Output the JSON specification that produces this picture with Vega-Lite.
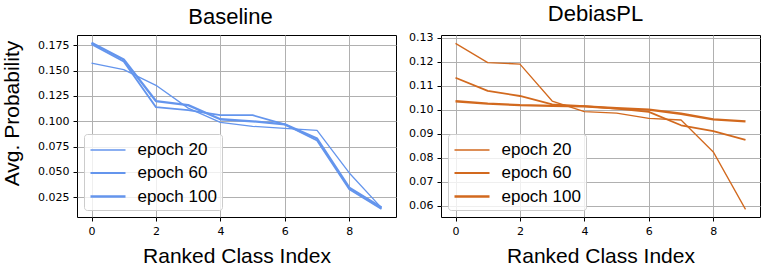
{
  "$schema": "https://vega.github.io/schema/vega-lite/v6.json",
  "padding": {"left": 1, "top": 2, "right": 5, "bottom": 0},
  "background": "white",
  "bounds": "flush",
  "spacing": 45,
  "config": {
    "view": {"stroke": "black", "strokeWidth": 1},
    "axis": {
      "domain": false,
      "grid": true,
      "gridColor": "#b0b0b0",
      "gridWidth": 1,
      "tickColor": "black",
      "tickSize": 4,
      "labelFont": "DejaVu Sans",
      "labelFontSize": 11,
      "labelColor": "black",
      "labelPadding": 4,
      "titleFont": "Liberation Sans",
      "titleFontSize": 21,
      "titleFontWeight": "normal",
      "titleColor": "black"
    },
    "legend": {
      "orient": "bottom-left",
      "offset": 7,
      "title": null,
      "strokeColor": "#cccccc",
      "fillColor": "rgba(255,255,255,0.8)",
      "cornerRadius": 3,
      "padding": 5,
      "labelFont": "Liberation Sans",
      "labelFontSize": 17,
      "labelColor": "black",
      "labelOffset": 18,
      "symbolType": "M-1.75,0H1.75",
      "symbolSize": 400,
      "symbolOffset": 7.5,
      "symbolFillColor": "transparent",
      "rowPadding": 4
    },
    "title": {"font": "Liberation Sans", "fontSize": 22, "fontWeight": "normal", "color": "black", "baseline": "alphabetic", "offset": 6}
  },
  "datasets": {
    "baseline": [
      {"e": "epoch 20", "i": 0, "p": 0.1575}, {"e": "epoch 20", "i": 1, "p": 0.151}, {"e": "epoch 20", "i": 2, "p": 0.1355}, {"e": "epoch 20", "i": 3, "p": 0.113}, {"e": "epoch 20", "i": 4, "p": 0.099}, {"e": "epoch 20", "i": 5, "p": 0.095}, {"e": "epoch 20", "i": 6, "p": 0.093}, {"e": "epoch 20", "i": 7, "p": 0.091}, {"e": "epoch 20", "i": 8, "p": 0.049}, {"e": "epoch 20", "i": 9, "p": 0.0145},
      {"e": "epoch 60", "i": 0, "p": 0.176}, {"e": "epoch 60", "i": 1, "p": 0.159}, {"e": "epoch 60", "i": 2, "p": 0.114}, {"e": "epoch 60", "i": 3, "p": 0.111}, {"e": "epoch 60", "i": 4, "p": 0.106}, {"e": "epoch 60", "i": 5, "p": 0.106}, {"e": "epoch 60", "i": 6, "p": 0.097}, {"e": "epoch 60", "i": 7, "p": 0.081}, {"e": "epoch 60", "i": 8, "p": 0.033}, {"e": "epoch 60", "i": 9, "p": 0.0135},
      {"e": "epoch 100", "i": 0, "p": 0.1775}, {"e": "epoch 100", "i": 1, "p": 0.161}, {"e": "epoch 100", "i": 2, "p": 0.12}, {"e": "epoch 100", "i": 3, "p": 0.116}, {"e": "epoch 100", "i": 4, "p": 0.102}, {"e": "epoch 100", "i": 5, "p": 0.1}, {"e": "epoch 100", "i": 6, "p": 0.097}, {"e": "epoch 100", "i": 7, "p": 0.083}, {"e": "epoch 100", "i": 8, "p": 0.0345}, {"e": "epoch 100", "i": 9, "p": 0.015}
    ],
    "debias": [
      {"e": "epoch 20", "i": 0, "p": 0.1276}, {"e": "epoch 20", "i": 1, "p": 0.1196}, {"e": "epoch 20", "i": 2, "p": 0.119}, {"e": "epoch 20", "i": 3, "p": 0.1036}, {"e": "epoch 20", "i": 4, "p": 0.0992}, {"e": "epoch 20", "i": 5, "p": 0.0986}, {"e": "epoch 20", "i": 6, "p": 0.0964}, {"e": "epoch 20", "i": 7, "p": 0.0957}, {"e": "epoch 20", "i": 8, "p": 0.0824}, {"e": "epoch 20", "i": 9, "p": 0.0585},
      {"e": "epoch 60", "i": 0, "p": 0.1133}, {"e": "epoch 60", "i": 1, "p": 0.1078}, {"e": "epoch 60", "i": 2, "p": 0.1057}, {"e": "epoch 60", "i": 3, "p": 0.1022}, {"e": "epoch 60", "i": 4, "p": 0.1015}, {"e": "epoch 60", "i": 5, "p": 0.1004}, {"e": "epoch 60", "i": 6, "p": 0.0991}, {"e": "epoch 60", "i": 7, "p": 0.0935}, {"e": "epoch 60", "i": 8, "p": 0.0911}, {"e": "epoch 60", "i": 9, "p": 0.0874},
      {"e": "epoch 100", "i": 0, "p": 0.1035}, {"e": "epoch 100", "i": 1, "p": 0.1025}, {"e": "epoch 100", "i": 2, "p": 0.1019}, {"e": "epoch 100", "i": 3, "p": 0.1016}, {"e": "epoch 100", "i": 4, "p": 0.1014}, {"e": "epoch 100", "i": 5, "p": 0.1006}, {"e": "epoch 100", "i": 6, "p": 0.1}, {"e": "epoch 100", "i": 7, "p": 0.0983}, {"e": "epoch 100", "i": 8, "p": 0.096}, {"e": "epoch 100", "i": 9, "p": 0.0951}
    ]
  },
  "resolve": {"scale": {"strokeWidth": "independent", "y": "independent"}, "legend": {"strokeWidth": "independent"}},
  "hconcat": [
    {
      "width": 319,
      "height": 182,
      "title": {"text": "Baseline", "dx": -6},
      "data": {"name": "baseline"},
      "mark": {"type": "line", "color": "#6495ED", "strokeCap": "butt", "strokeJoin": "round"},
      "encoding": {
        "x": {"field": "i", "type": "quantitative", "scale": {"domain": [-0.45, 9.45], "nice": false, "zero": false}, "axis": {"values": [0, 2, 4, 6, 8], "title": "Ranked Class Index", "titleBaseline": "alphabetic", "titlePadding": 26}},
        "y": {"field": "p", "type": "quantitative", "scale": {"domain": [0.0055, 0.1852], "nice": false, "zero": false}, "axis": {"values": [0.025, 0.05, 0.075, 0.1, 0.125, 0.15, 0.175], "format": ".3f", "title": "Avg. Probability", "titlePadding": 15, "titleY": 78}},
        "strokeWidth": {"field": "e", "type": "nominal", "scale": {"domain": ["epoch 20", "epoch 60", "epoch 100"], "range": [1.3, 2.3, 3.5]}, "legend": {"symbolStrokeColor": "#6495ED", "encode": {"symbols": {"update": {"stroke": {"value": "#6495ED"}, "fill": {"value": "transparent"}}}}}}
      }
    },
    {
      "width": 319,
      "height": 182,
      "title": {"text": "DebiasPL", "dx": -5},
      "data": {"name": "debias"},
      "mark": {"type": "line", "color": "#D2691E", "strokeCap": "butt", "strokeJoin": "round"},
      "encoding": {
        "x": {"field": "i", "type": "quantitative", "scale": {"domain": [-0.45, 9.45], "nice": false, "zero": false}, "axis": {"values": [0, 2, 4, 6, 8], "title": "Ranked Class Index", "titleBaseline": "alphabetic", "titlePadding": 26}},
        "y": {"field": "p", "type": "quantitative", "scale": {"domain": [0.0553, 0.1311], "nice": false, "zero": false}, "axis": {"values": [0.06, 0.07, 0.08, 0.09, 0.1, 0.11, 0.12, 0.13], "format": ".2f", "title": null}},
        "strokeWidth": {"field": "e", "type": "nominal", "scale": {"domain": ["epoch 20", "epoch 60", "epoch 100"], "range": [1.3, 2.3, 3.5]}, "legend": {"symbolStrokeColor": "#D2691E", "encode": {"symbols": {"update": {"stroke": {"value": "#D2691E"}, "fill": {"value": "transparent"}}}}}}
      }
    }
  ]
}
